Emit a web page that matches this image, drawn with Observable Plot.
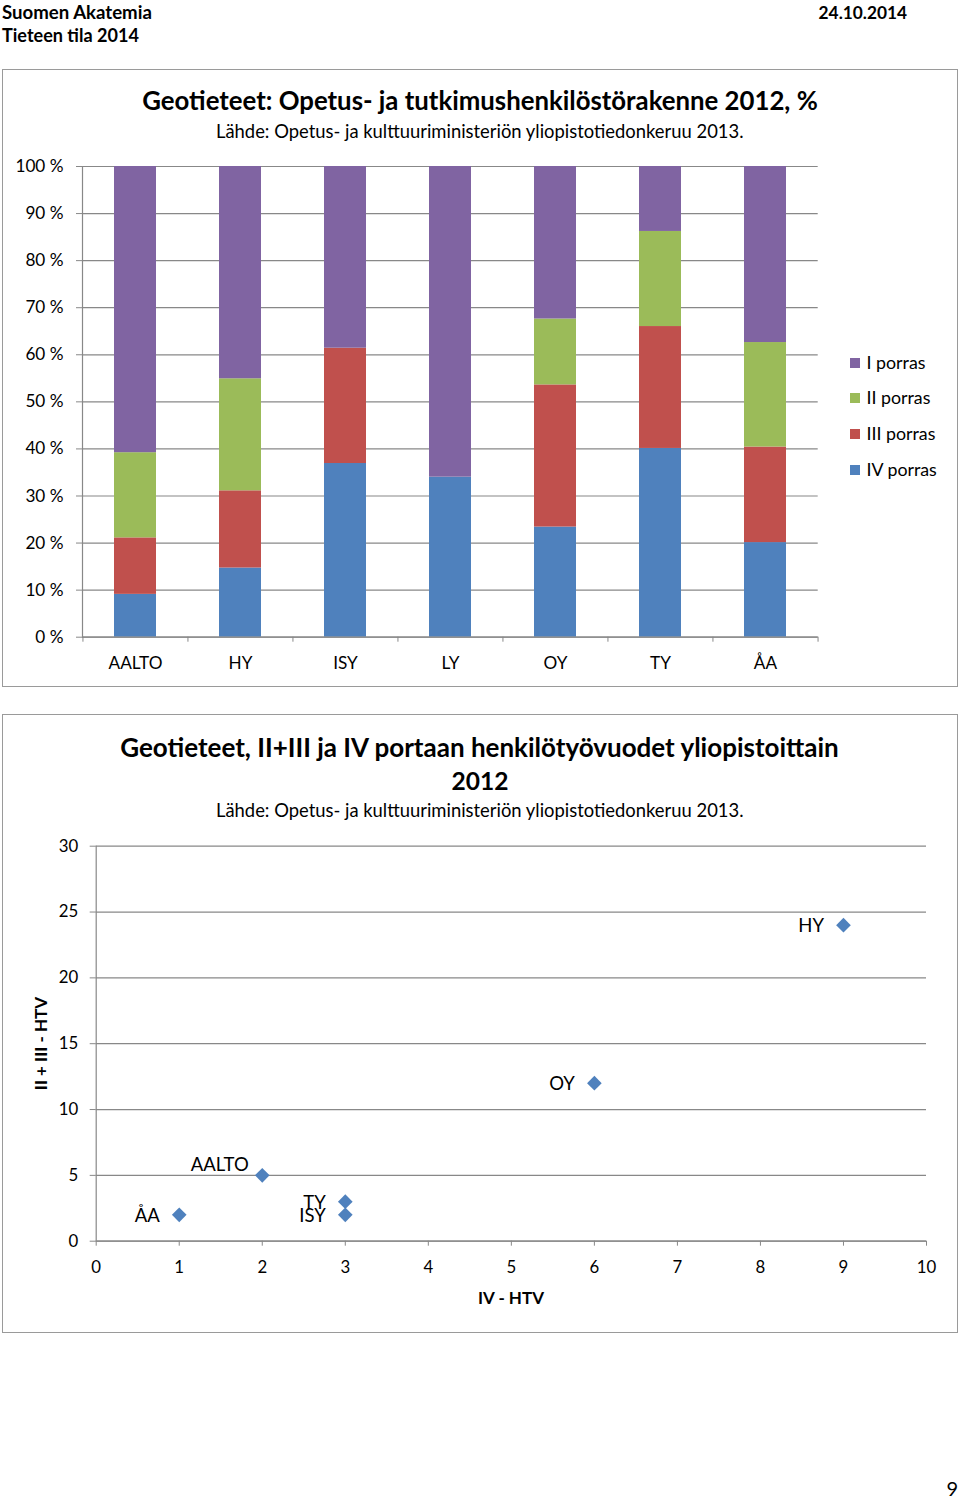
<!DOCTYPE html>
<html><head><meta charset="utf-8">
<script src="https://cdn.jsdelivr.net/npm/d3@7"></script>
<script src="https://cdn.jsdelivr.net/npm/@observablehq/plot@0.6"></script>
<style>
body{margin:0;background:#fff;font-family:Lato, sans-serif;color:#000;}
#page{position:relative;width:960px;height:1497px;overflow:hidden;background:#fff;}
.abs{position:absolute;white-space:nowrap;line-height:1;}
.box{position:absolute;border:1.5px solid #9a9a9a;box-sizing:border-box;pointer-events:none;}
.plotwrap{position:absolute;left:0;}
.plotwrap svg{overflow:visible;}
</style></head><body><div id="page"></div>
<script>
// ---------- data: chart 1 (stacked %, by university) ----------
const universities = ["AALTO", "HY", "ISY", "LY", "OY", "TY", "ÅA"];
const ivPorras  = [9.1, 14.7, 36.9, 34.0, 23.4, 40.1, 20.1];
const iiiPorras = [12.0, 16.4, 24.5, 0.0, 30.2, 25.9, 20.3];
const iiPorras  = [18.1, 23.8, 0.0, 0.0, 14.0, 20.2, 22.2];
const iPorras   = [60.8, 45.1, 38.6, 66.0, 32.4, 13.8, 37.4];
const stackSeries = ["IV porras", "III porras", "II porras", "I porras"];
const legendSeries = ["I porras", "II porras", "III porras", "IV porras"];
const seriesColors = {"I porras": "#8064A2", "II porras": "#9BBB59", "III porras": "#C0504D", "IV porras": "#4F81BD"};
const yTicksPct = [0, 10, 20, 30, 40, 50, 60, 70, 80, 90, 100];

// ---------- data: chart 2 (scatter) ----------
const scatterNames = ["AALTO", "HY", "ISY", "OY", "TY", "ÅA"];
const ivHtv = [2, 9, 3, 6, 3, 1];
const iiIiiHtv = [5, 24, 2, 12, 3, 2];
const xTicks2 = [0, 1, 2, 3, 4, 5, 6, 7, 8, 9, 10];
const yTicks2 = [0, 5, 10, 15, 20, 25, 30];

const GRID = "#888888";
const BASE = 0.81; // baseline offset (fraction of font size) with line-height 1
const page = document.getElementById("page");

function addText(str, o) {
  const el = document.createElement("div");
  el.className = "abs";
  el.textContent = str;
  el.style.fontWeight = o.bold ? "700" : "400";
  let fs = o.size || 20;
  el.style.fontSize = fs + "px";
  const lh = o.lineHeight || 1;
  el.style.lineHeight = String(lh);
  page.appendChild(el);
  if (o.width) {
    fs = fs * o.width / el.getBoundingClientRect().width;
    el.style.fontSize = fs + "px";
  }
  const w = el.getBoundingClientRect().width;
  const left = o.left != null ? o.left : (o.cx != null ? o.cx - w / 2 : o.right - w);
  el.style.left = left + "px";
  el.style.top = (o.baseline - (BASE - (1 - lh) / 2) * fs) + "px";
  return el;
}

// ---------- header ----------
addText("Suomen Akatemia", {left: 2, baseline: 18.3, width: 150, bold: true});
addText("Tieteen tila 2014", {left: 2, baseline: 40.7, width: 137, bold: true});
addText("24.10.2014", {right: 907, baseline: 18.3, width: 88.5, bold: true});
addText("9", {right: 958, baseline: 1494.5, size: 20, lineHeight: 0.75});

// ---------- chart 1 ----------
const rows = [];
const stackValues = {"IV porras": ivPorras, "III porras": iiiPorras, "II porras": iiPorras, "I porras": iPorras};
stackSeries.forEach(s => universities.forEach((u, i) => rows.push({u, s, v: stackValues[s][i]})));

const W1 = 960, ML1 = 82, MR1 = 142.3;
const step1 = (W1 - ML1 - MR1) / universities.length;

const chart1 = Plot.plot({
  width: W1, height: 540,
  marginTop: 16, marginBottom: 53.3, marginLeft: ML1, marginRight: MR1,
  style: {background: "transparent", fontFamily: "Lato, sans-serif", fontSize: "17.2px", color: "#000", overflow: "visible"},
  x: {domain: universities, paddingInner: 0.6, paddingOuter: 0.3, label: null, axis: null},
  y: {domain: [0, 100], label: null, axis: null},
  color: {domain: Object.keys(seriesColors), range: Object.values(seriesColors)},
  marks: [
    Plot.gridY(yTicksPct, {stroke: GRID, strokeOpacity: 1, strokeWidth: 1.2}),
    Plot.barY(rows, {x: "u", y: "v", fill: "s"}),
    Plot.axisY(yTicksPct, {tickSize: 6, tickPadding: 13, tickFormat: d => d + " %", stroke: GRID, fill: "#000", label: null}),
    Plot.axisX({tickSize: 0, tickPadding: 20, fill: "#000", label: null}),
    Plot.axisX({tickSize: 5, tickFormat: () => "", dx: -step1 / 2, stroke: GRID, label: null}),
    Plot.axisX([universities[universities.length - 1]], {tickSize: 5, tickFormat: () => "", dx: step1 / 2, stroke: GRID, label: null}),
    Plot.ruleY([0], {stroke: GRID, strokeWidth: 1.2}),
    Plot.frame({anchor: "left", stroke: GRID, strokeWidth: 1.2})
  ]
});
const w1 = document.createElement("div");
w1.className = "plotwrap"; w1.style.top = "150px";
w1.appendChild(chart1);
page.appendChild(w1);

addText("Geotieteet: Opetus- ja tutkimushenkilöstörakenne 2012, %", {cx: 480, baseline: 109.3, width: 676, bold: true});
addText("Lähde: Opetus- ja kulttuuriministeriön yliopistotiedonkeruu 2013.", {left: 216, baseline: 136.7, width: 528});

// legend
const legendBaselines = [368, 403.7, 439.4, 475];
legendSeries.forEach((s, i) => {
  const sq = document.createElement("div");
  sq.style.cssText = `position:absolute;left:850px;top:${legendBaselines[i] - 10.3}px;width:10px;height:10px;background:${seriesColors[s]};`;
  page.appendChild(sq);
  addText(s, {left: 866.5, baseline: legendBaselines[i], size: 17.8});
});

// ---------- chart 2 ----------
const pts = scatterNames.map((name, i) => ({name, x: ivHtv[i], y: iiIiiHtv[i]}));
const chart2 = Plot.plot({
  width: 960, height: 500,
  marginTop: 15.7, marginBottom: 89.3, marginLeft: 95.7, marginRight: 34,
  style: {background: "transparent", fontFamily: "Lato, sans-serif", fontSize: "16.8px", color: "#000", overflow: "visible"},
  x: {domain: [0, 10], label: null, axis: null},
  y: {domain: [0, 30], label: null, axis: null},
  marks: [
    Plot.gridY(yTicks2, {stroke: GRID, strokeOpacity: 1, strokeWidth: 1.2}),
    Plot.ruleX([0], {stroke: GRID, strokeWidth: 1.2}),
    Plot.ruleY([0], {stroke: GRID, strokeWidth: 1.2}),
    Plot.axisY(yTicks2, {tickSize: 6, tickPadding: 12, stroke: GRID, fill: "#000", label: null}),
    Plot.axisX(xTicks2, {tickSize: 5, tickPadding: 15, stroke: GRID, fill: "#000", label: null}),
    Plot.dot(pts, {x: "x", y: "y", symbol: "diamond2", r: 6.6, fill: "#4F81BD", stroke: null}),
    Plot.text(pts.filter(d => d.name !== "AALTO"), {x: "x", y: "y", text: "name", textAnchor: "end", dx: -19.5, dy: 1, fill: "#000", fontSize: 18.5}),
    Plot.text(pts.filter(d => d.name === "AALTO"), {x: "x", y: "y", text: "name", textAnchor: "end", dx: -13.5, dy: -10, fill: "#000", fontSize: 18.5})
  ]
});
const w2 = document.createElement("div");
w2.className = "plotwrap"; w2.style.top = "830px";
w2.appendChild(chart2);
page.appendChild(w2);

addText("Geotieteet, II+III ja IV portaan henkilötyövuodet yliopistoittain", {cx: 479.5, baseline: 755, width: 719, bold: true});
addText("2012", {cx: 480, baseline: 789.3, width: 57, bold: true});
addText("Lähde: Opetus- ja kulttuuriministeriön yliopistotiedonkeruu 2013.", {left: 216, baseline: 816, width: 528});
addText("IV - HTV", {cx: 511, baseline: 1302.7, width: 66, bold: true});

// rotated y title
(function(){
  const el = document.createElement("div");
  el.className = "abs";
  el.textContent = "II + III - HTV";
  el.style.fontWeight = "700";
  el.style.fontSize = "20px";
  page.appendChild(el);
  const fs = 20 * 93.3 / el.getBoundingClientRect().width;
  el.style.fontSize = fs + "px";
  const r = el.getBoundingClientRect();
  el.style.left = (40.5 - r.width / 2) + "px";
  el.style.top = (1043.3 - r.height / 2) + "px";
  el.style.transform = "rotate(-90deg)";
  el.style.transformOrigin = "50% 50%";
})();

// ---------- chart boxes ----------
[[69, 687], [714, 1333]].forEach(([t, b]) => {
  const bx = document.createElement("div");
  bx.className = "box";
  bx.style.left = "2px"; bx.style.width = "956px";
  bx.style.top = t + "px"; bx.style.height = (b - t) + "px";
  page.appendChild(bx);
});
</script></body></html>
